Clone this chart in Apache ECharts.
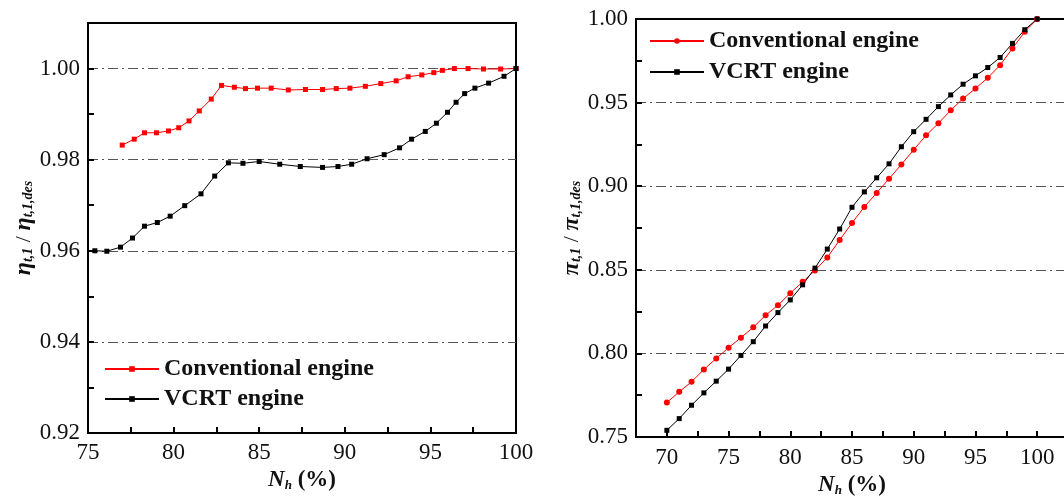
<!DOCTYPE html>
<html>
<head>
<meta charset="utf-8">
<script src="https://cdn.jsdelivr.net/npm/echarts@6/dist/echarts.min.js"></script>
<style>
html,body{margin:0;padding:0;background:#fff;}
#c{width:1064px;height:503px;}
</style>
</head>
<body>
<div id="c"></div>
<script>
// ---- Left panel: eta_t,1 / eta_t,1,des vs N_h ----
const leftConvX = [77.0,77.7,78.3,79.0,79.7,80.3,80.9,81.5,82.2,82.8,83.55,84.2,84.9,85.7,86.7,87.7,88.7,89.5,90.3,91.2,92.1,93.0,93.7,94.5,95.2,95.7,96.4,97.2,98.1,99.1,100];
const leftConvY = [0.9832,0.9845,0.9859,0.9859,0.9863,0.9870,0.9885,0.9907,0.9933,0.9963,0.9959,0.9956,0.9957,0.9957,0.9953,0.9954,0.9954,0.9956,0.9957,0.9961,0.9967,0.9973,0.9982,0.9986,0.9991,0.9996,1.0000,1.0000,0.9999,0.9999,1.0000];
const leftVcrtX = [75.4,76.1,76.9,77.6,78.3,79.05,79.8,80.65,81.6,82.4,83.2,84.05,85.0,86.2,87.4,88.7,89.6,90.4,91.3,92.3,93.2,93.9,94.7,95.35,96.0,96.5,97.0,97.6,98.4,99.3,100];
const leftVcrtY = [0.9600,0.9599,0.9608,0.9628,0.9654,0.9662,0.9676,0.9699,0.9725,0.9764,0.9793,0.9792,0.9796,0.9790,0.9785,0.9783,0.9785,0.9790,0.9802,0.9811,0.9826,0.9845,0.9862,0.9880,0.9904,0.9926,0.9945,0.9957,0.9968,0.9983,1.0000];

// ---- Right panel: pi_t,1 / pi_t,1,des vs N_h ----
const rightX = [70,71,72,73,74,75,76,77,78,79,80,81,82,83,84,85,86,87,88,89,90,91,92,93,94,95,96,97,98,99,100];
const rightConvY = [0.7706,0.777,0.783,0.7904,0.797,0.8034,0.8094,0.8156,0.8228,0.8288,0.836,0.8428,0.8496,0.8574,0.8678,0.878,0.8876,0.896,0.9044,0.913,0.9218,0.9304,0.9376,0.9454,0.9524,0.9584,0.9648,0.9724,0.9824,0.9924,1.0];
const rightVcrtY = [0.754,0.761,0.769,0.7764,0.7834,0.7906,0.7988,0.807,0.8164,0.8244,0.832,0.841,0.851,0.8624,0.8744,0.8874,0.8966,0.905,0.9134,0.9236,0.9326,0.94,0.9476,0.9546,0.961,0.966,0.971,0.977,0.9854,0.9936,1.0];

const seriesNames = ['Conventional engine', 'VCRT engine'];

const FONT = '"Liberation Serif", "Times New Roman", serif';
const zip = (xs, ys) => xs.map((x, i) => [x, ys[i]]);

const chart = echarts.init(document.getElementById('c'), null, {renderer: 'canvas'});

const dashDot = {color: '#555', width: 1, type: [10, 4, 2, 4]};
const axisLineStyle = {show: true, onZero: false, lineStyle: {color: '#000', width: 2}};
const tickStyle = {show: true, inside: true, length: 6, lineStyle: {color: '#000', width: 2}};
const labelBase = {color: '#111', fontFamily: FONT, fontSize: 23};

const xName = '{n|N}{h|h}{p| (%)}';
const xNameRich = {
  n: {fontFamily: FONT, fontSize: 23, fontWeight: 'bold', fontStyle: 'italic', color: '#111'},
  h: {fontFamily: FONT, fontSize: 13, fontWeight: 'bold', fontStyle: 'italic', color: '#111', verticalAlign: 'bottom', padding: [10, 0, 0, 0]},
  p: {fontFamily: FONT, fontSize: 23, fontWeight: 'bold', color: '#111'}
};
function yNameRich() {
  return {
    g: {fontFamily: FONT, fontSize: 24, fontWeight: 'bold', fontStyle: 'italic', color: '#111'},
    s: {fontFamily: FONT, fontSize: 14, fontWeight: 'bold', fontStyle: 'italic', color: '#111', verticalAlign: 'bottom', padding: [10, 0, 0, 0]},
    r: {fontFamily: FONT, fontSize: 22, color: '#111'}
  };
}

function mult(v, step) { const k = Math.round(v * 1000); return k % Math.round(step * 1000) === 0; }

const option = {
  animation: false,
  backgroundColor: '#fff',
  grid: [
    {left: 88, top: 23, width: 428, height: 410, show: true, borderColor: '#000', borderWidth: 2, backgroundColor: 'transparent', outerBoundsMode: 'none', containLabel: false},
    {left: 636, top: 19, width: 432, height: 418, show: true, borderColor: '#000', borderWidth: 2, backgroundColor: 'transparent', outerBoundsMode: 'none', containLabel: false}
  ],
  xAxis: [
    {gridIndex: 0, type: 'value', min: 75, max: 100, interval: 2.5,
     axisLine: axisLineStyle, axisTick: tickStyle, splitLine: {show: false},
     axisLabel: Object.assign({}, labelBase, {margin: 8, formatter: v => mult(v, 5) ? String(Math.round(v)) : ''}),
     name: xName, nameLocation: 'middle', nameGap: 30, nameTextStyle: {rich: xNameRich}},
    {gridIndex: 1, type: 'value', min: 67.5, max: 102.5, interval: 2.5,
     axisLine: axisLineStyle, axisTick: tickStyle, splitLine: {show: false},
     axisLabel: Object.assign({}, labelBase, {margin: 9, formatter: v => mult(v, 5) && v <= 100 ? String(Math.round(v)) : ''}),
     name: xName, nameLocation: 'middle', nameGap: 30, nameTextStyle: {rich: xNameRich}}
  ],
  yAxis: [
    {gridIndex: 0, type: 'value', min: 0.92, max: 1.01, interval: 0.01, position: 'left',
     axisLine: axisLineStyle, axisTick: tickStyle, splitLine: {show: false},
     axisLabel: Object.assign({}, labelBase, {margin: 8, formatter: v => mult(v, 0.02) ? v.toFixed(2) : ''}),
     name: '{g|η}{s|t,1}{r| / }{g|η}{s|t,1,des}', nameLocation: 'middle', nameGap: 46, nameTextStyle: {rich: yNameRich()}},
    {gridIndex: 0, type: 'value', min: 0.92, max: 1.01, interval: 0.02, position: 'right',
     axisLine: {show: false}, axisTick: {show: false}, axisLabel: {show: false},
     splitLine: {show: true, showMinLine: false, showMaxLine: false, lineStyle: dashDot}},
    {gridIndex: 1, type: 'value', min: 0.75, max: 1.0, interval: 0.025, position: 'left',
     axisLine: axisLineStyle, axisTick: tickStyle, splitLine: {show: false},
     axisLabel: Object.assign({}, labelBase, {margin: 8, formatter: v => mult(v, 0.05) ? v.toFixed(2) : ''}),
     name: '{g|π}{s|t,1}{r| / }{g|π}{s|t,1,des}', nameLocation: 'middle', nameGap: 46, nameTextStyle: {rich: yNameRich()}},
    {gridIndex: 1, type: 'value', min: 0.75, max: 1.0, interval: 0.05, position: 'right',
     axisLine: {show: false}, axisTick: {show: false}, axisLabel: {show: false},
     splitLine: {show: true, showMinLine: false, showMaxLine: false, lineStyle: dashDot}}
  ],
  legend: [
    {left: 99, top: 352, orient: 'vertical', itemWidth: 54, itemHeight: 7, itemGap: 6,
     data: ['L|' + seriesNames[0], 'L|' + seriesNames[1]],
     formatter: n => n.slice(2),
     textStyle: {fontFamily: FONT, fontSize: 24, fontWeight: 'bold', color: '#111'}},
    {left: 644, top: 24, orient: 'vertical', itemWidth: 54, itemHeight: 7, itemGap: 7,
     data: ['R|' + seriesNames[0], 'R|' + seriesNames[1]],
     formatter: n => n.slice(2),
     textStyle: {fontFamily: FONT, fontSize: 24, fontWeight: 'bold', color: '#111'}}
  ],
  series: [
    {name: 'L|' + seriesNames[0], type: 'line', xAxisIndex: 0, yAxisIndex: 0, data: zip(leftConvX, leftConvY),
     symbol: 'rect', symbolSize: 5, color: '#ff0000', lineStyle: {width: 1, color: '#ff0000'}, itemStyle: {color: '#ff0000'}},
    {name: 'L|' + seriesNames[1], type: 'line', xAxisIndex: 0, yAxisIndex: 0, data: zip(leftVcrtX, leftVcrtY),
     symbol: 'rect', symbolSize: 5, color: '#000', lineStyle: {width: 1, color: '#000'}, itemStyle: {color: '#000'}},
    {name: 'R|' + seriesNames[0], type: 'line', xAxisIndex: 1, yAxisIndex: 2, data: zip(rightX, rightConvY),
     symbol: 'circle', symbolSize: 6, color: '#ff0000', lineStyle: {width: 1, color: '#ff0000'}, itemStyle: {color: '#ff0000'}},
    {name: 'R|' + seriesNames[1], type: 'line', xAxisIndex: 1, yAxisIndex: 2, data: zip(rightX, rightVcrtY),
     symbol: 'rect', symbolSize: 5, color: '#000', lineStyle: {width: 1, color: '#000'}, itemStyle: {color: '#000'}}
  ]
};
chart.setOption(option);
</script>
</body>
</html>
